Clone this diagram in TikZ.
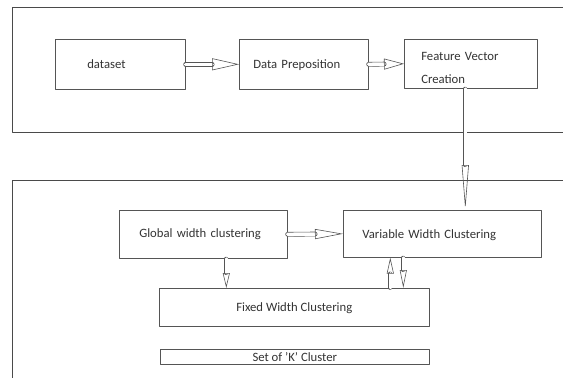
\documentclass[tikz,border=0pt]{standalone}
\usepackage{fontspec}
\setmainfont{Carlito}
\usetikzlibrary{arrows.meta}
\definecolor{boxgray}{HTML}{555555}
\definecolor{framegray}{HTML}{4A4A4A}
\definecolor{txtgray}{HTML}{333333}
\begin{document}
\begin{tikzpicture}[x=1pt, y=-1pt, line cap=round, line join=round,
    procbox/.style={draw=boxgray, line width=0.6pt, anchor=north west, inner ysep=0pt,
        text=txtgray, font=\fontsize{12.7}{23}\selectfont, align=left},
    hollowarrow/.style 2 args={draw=boxgray, line width=0.6pt, double=white, double distance=3.5pt,
        -{Triangle[open, length=#1pt, width=#2pt]}},
    thinshaft/.style={double distance=2.5pt}]

                \useasboundingbox (0,0) rectangle (563,378);

                % outer frames
                \draw[framegray, line width=0.6pt] (570,7.5) -- (12.5,7.5) -- (12.5,132) -- (570,132);
                \draw[framegray, line width=0.6pt] (12.5,380) -- (12.5,180.5) -- (570,180.5);

                % upper row
                \node[procbox, inner xsep=32pt, text width=66pt, minimum height=50pt] (data) at (55,39) {\strut dataset};
                \node[procbox, inner xsep=14pt, text width=101pt, minimum height=50pt] (prep) at (239,39) {\strut Data Preposition};
                \node[procbox, inner xsep=17pt, text width=99pt, minimum height=49pt] (feat) at (404,39) {\rule{0pt}{16pt}Feature Vector\\Creation};

                % lower part
                \node[procbox, inner xsep=20pt, text width=128pt, minimum height=48pt] (glob) at (119,210) {Global width clustering};
                \node[procbox, inner xsep=19pt, text width=160pt, minimum height=47pt] (var) at (343,210) {\strut Variable Width Clustering};
                \node[procbox, align=center, inner xsep=0pt, minimum width=270pt, minimum height=38pt] (fixed) at (159,288) {\strut Fixed Width Clustering};
                \node[procbox, align=center, inner xsep=0pt, minimum width=269pt, minimum height=15pt] (kset) at (160,349) {Set of 'K' Cluster};

                % connectors
                \draw[hollowarrow={27}{12}] (data.east) -- (prep.west);
                \draw[hollowarrow={20}{11}] (prep.east) -- (feat.west);
                \draw[hollowarrow={45}{7}, thinshaft] ([xshift=-5.5pt]feat.south) -- ([xshift=-5.5pt]feat.south |- var.north);
                \draw[hollowarrow={28}{10}] (glob.east) -- (var.west);
                \draw[hollowarrow={15}{7}, thinshaft] ([xshift=23pt]glob.south) -- ([xshift=23pt]glob.south |- fixed.north);
                \draw[hollowarrow={16}{7}, thinshaft] ([xshift=96pt]fixed.north) -- ([xshift=96pt]fixed.north |- var.south);
                \draw[hollowarrow={18}{7}, thinshaft] ([xshift=-39pt]var.south) -- ([xshift=-39pt]var.south |- fixed.north);

\end{tikzpicture}
\end{document}
